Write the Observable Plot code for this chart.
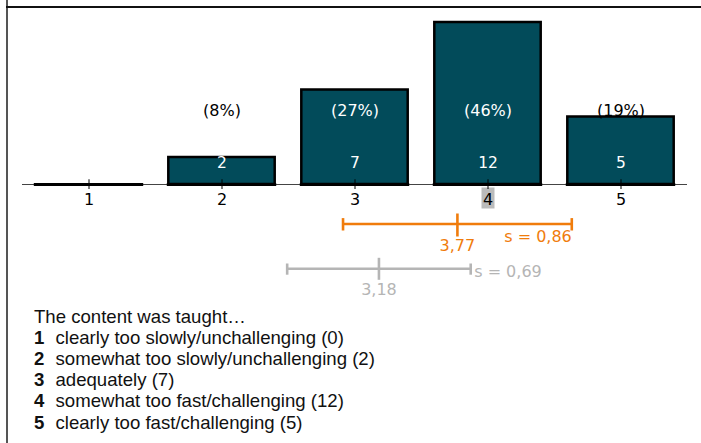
<!DOCTYPE html>
<html>
<head>
<meta charset="utf-8">
<script src="https://cdn.jsdelivr.net/npm/d3@7"></script>
<script src="https://cdn.jsdelivr.net/npm/@observablehq/plot@0.6"></script>
<style>
  html, body { margin: 0; padding: 0; background: #fff; }
  body { width: 701px; height: 443px; position: relative; overflow: hidden; }
  #frameTop { position: absolute; left: 6px; top: 6px; width: 695px; height: 2px; background: #111; }
  #frameLeft { position: absolute; left: 6px; top: 0px; width: 2px; height: 443px; background: #555; }
  #chart { position: absolute; left: 0; top: 0; }
  #legend { position: absolute; left: 34px; top: 305.5px; font-family: "Liberation Sans", Arial, sans-serif; font-size: 18.6px; line-height: 21.2px; color: #111; white-space: nowrap; }
  #legend b { margin-right: 6px; }
</style>
</head>
<body>
<div id="frameLeft"></div>
<div id="frameTop"></div>
<div id="chart"></div>
<div id="legend"></div>
<script>
// ---- data ----
const categories = [1, 2, 3, 4, 5];
const counts = [0, 2, 7, 12, 5];
const median = 4;
const meanCourse = 3.77, sdCourse = 0.86;
const meanCompare = 3.18, sdCompare = 0.69;
const legendTitle = "The content was taught…";
const legendLabels = [
  "clearly too slowly/unchallenging",
  "somewhat too slowly/unchallenging",
  "adequately",
  "somewhat too fast/challenging",
  "clearly too fast/challenging"
];

// ---- derived table ----
const total = d3.sum(counts);
const bars = categories.map((c, i) => ({cat: c, count: counts[i], pct: Math.round(100 * counts[i] / total)}));
const fmt = v => v.toFixed(2).replace(".", ",");
const halfBar = 0.4;
const orange = "#f07c0c";
const grey = "#b5b5b5";
const font = "DejaVu Sans, sans-serif";
const vline = {draw(ctx, size) { const r = Math.sqrt(size / Math.PI); ctx.moveTo(0, -r); ctx.lineTo(0, r); }};
const box = {draw(ctx, size) { ctx.rect(-6.5, -10.5, 13, 21); }};

const course = [{mean: meanCourse, sd: sdCourse}];
const compare = [{mean: meanCompare, sd: sdCompare}];

const chart = Plot.plot({
  width: 701,
  height: 300,
  marginLeft: 22,
  marginRight: 14,
  marginTop: 22,
  marginBottom: 116,
  x: {type: "linear", domain: [0.5, 5.5], axis: null},
  y: {domain: [0, 12], axis: null},
  style: {fontFamily: font, background: "transparent", overflow: "visible"},
  marks: [
    Plot.ruleY([0], {stroke: "#444", strokeWidth: 1}),
    Plot.rectY(bars.filter(d => d.count > 0), {x1: d => d.cat - halfBar, x2: d => d.cat + halfBar, y1: 0, y2: "count", fill: "#024b5a", stroke: "#000", strokeWidth: 2.5}),
    Plot.ruleY(bars, {x1: d => d.cat - halfBar, x2: d => d.cat + halfBar, y: 0, stroke: "#000", strokeWidth: 3, strokeLinecap: "square"}),
    Plot.ruleX(categories, {x: d => d, y1: 0, y2: 0.35, stroke: "#000", strokeWidth: 1}),
    Plot.dot([median], {x: d => d, y: 0, dy: 13.5, symbol: box, r: 5, fill: "#bbb", stroke: null}),
    Plot.axisX(categories, {tickSize: 5, tickPadding: 4, fontSize: 16, tickFormat: d => String(d), stroke: "#000", color: "#000"}),
    Plot.text(bars.filter(d => d.count > 0), {x: "cat", y: 0, dy: -21, text: d => String(d.count), fill: "white", fontSize: 15.5}),
    Plot.text(bars.filter(d => d.count > 0), {x: "cat", y: 0, dy: -74, text: d => `(${d.pct}%)`, fill: d => d.count >= 6 ? "white" : "black", fontSize: 16}),
    // course mean/sd
    Plot.ruleY(course, {x1: d => d.mean - d.sd, x2: d => d.mean + d.sd, y: 0, dy: 39.5, stroke: orange, strokeWidth: 2.6}),
    Plot.dot(course.flatMap(d => [d.mean - d.sd, d.mean + d.sd]), {x: d => d, y: 0, dy: 39.8, symbol: vline, r: 6.2, stroke: orange, strokeWidth: 2.6}),
    Plot.dot(course, {x: "mean", y: 0, dy: 40.5, symbol: vline, r: 11.5, stroke: orange, strokeWidth: 2.6}),
    Plot.text(course, {x: "mean", y: 0, dy: 61.5, text: d => fmt(d.mean), fill: orange, fontSize: 16}),
    Plot.text(course, {x: d => d.mean + d.sd, y: 0, dy: 52, text: d => "s = " + fmt(d.sd), textAnchor: "end", fill: orange, fontSize: 16}),
    // comparison mean/sd
    Plot.ruleY(compare, {x1: d => d.mean - d.sd, x2: d => d.mean + d.sd, y: 0, dy: 84.3, stroke: grey, strokeWidth: 2.6}),
    Plot.dot(compare.flatMap(d => [d.mean - d.sd, d.mean + d.sd]), {x: d => d, y: 0, dy: 84.6, symbol: vline, r: 5.6, stroke: grey, strokeWidth: 2.6}),
    Plot.dot(compare, {x: "mean", y: 0, dy: 84.3, symbol: vline, r: 11, stroke: grey, strokeWidth: 2.6}),
    Plot.text(compare, {x: "mean", y: 0, dy: 105, text: d => fmt(d.mean), fill: grey, fontSize: 16}),
    Plot.text(compare, {x: d => d.mean + d.sd, y: 0, dx: 3.5, dy: 87, text: d => "s = " + fmt(d.sd), textAnchor: "start", fill: grey, fontSize: 16})
  ]
});
document.getElementById("chart").appendChild(chart);

// ---- legend ----
const legend = document.getElementById("legend");
const t = document.createElement("div");
t.textContent = legendTitle;
legend.appendChild(t);
legendLabels.forEach((lab, i) => {
  const row = document.createElement("div");
  const b = document.createElement("b");
  b.textContent = String(categories[i]);
  row.appendChild(b);
  row.appendChild(document.createTextNode(" " + lab + " (" + counts[i] + ")"));
  legend.appendChild(row);
});
</script>
</body>
</html>
